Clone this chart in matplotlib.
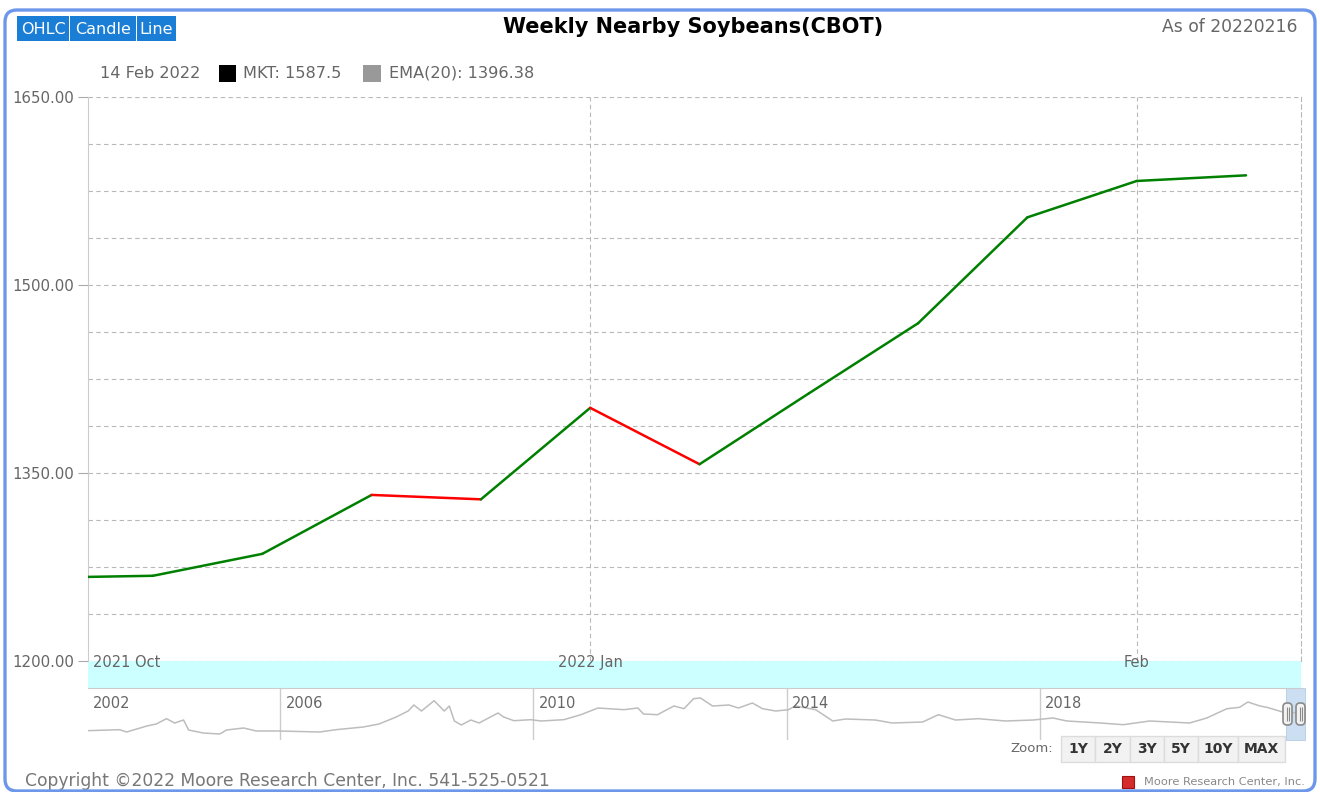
import numpy as np
import matplotlib
matplotlib.use('Agg')
import matplotlib.pyplot as plt
from matplotlib.patches import Rectangle, FancyBboxPatch
from matplotlib.transforms import IdentityTransform

W, H = 1320, 792

# weekly closes shown in the zoomed window (ordinal week index)
week_pos = [-1, 0, 1, 2, 3, 4, 5, 6, 7, 8, 9, 10]
week_close = [1266.5, 1268.0, 1285.5, 1332.5, 1329.0, 1402.0, 1357.0,
              1413.5, 1469.5, 1554.0, 1583.0, 1587.5]
x_tick_pos = [4, 9]
x_tick_labels = ['2022 Jan', 'Feb']
y_major = [1200, 1350, 1500, 1650]

# navigator series (long history)
nav_years = [2002.94, 2003.46, 2003.57, 2003.89, 2004.04, 2004.20, 2004.33, 2004.47,
             2004.55, 2004.78, 2005.04, 2005.15, 2005.42, 2005.62, 2005.98, 2006.62,
             2006.88, 2007.31, 2007.56, 2007.83, 2008.02, 2008.11, 2008.23, 2008.43,
             2008.59, 2008.67, 2008.75, 2008.86, 2009.01, 2009.14, 2009.44, 2009.53,
             2009.69, 2009.96, 2010.12, 2010.48, 2010.75, 2011.02, 2011.43, 2011.65,
             2011.74, 2011.96, 2012.22, 2012.38, 2012.53, 2012.64, 2012.83, 2013.09,
             2013.24, 2013.46, 2013.62, 2013.83, 2014.03, 2014.14, 2014.46, 2014.73,
             2014.93, 2015.40, 2015.67, 2016.15, 2016.40, 2016.67, 2017.03, 2017.46,
             2017.90, 2018.21, 2018.43, 2018.96, 2019.32, 2019.74, 2020.37, 2020.64,
             2020.96, 2021.16, 2021.29, 2021.48, 2021.59, 2021.84, 2022.12]
nav_close = [724, 756, 682, 874, 938, 1108, 970, 1066,
             746, 650, 618, 746, 810, 714, 714, 682,
             756, 842, 938, 1162, 1354, 1546, 1354, 1684,
             1354, 1514, 1034, 906, 1066, 970, 1290, 1162,
             1044, 1076, 1034, 1076, 1236, 1450, 1396, 1450,
             1258, 1236, 1514, 1428, 1748, 1770, 1514, 1546,
             1450, 1610, 1428, 1354, 1396, 1514, 1396, 1034,
             1098, 1066, 970, 1002, 1236, 1066, 1108, 1034,
             1066, 1130, 1034, 970, 916, 1034, 970, 1130,
             1428, 1472, 1642, 1514, 1472, 1322, 1290]
nav_ticks = [2006, 2010, 2014, 2018]
zoom_buttons = ['1Y', '2Y', '3Y', '5Y', '10Y', 'MAX']
chart_buttons = ['OHLC', 'Candle', 'Line']

GRAY = '#666666'
GRID = '#b8b8b8'


def rect(x0, y0, x1, y1):
    return [x0 / W, 1 - y1 / H, (x1 - x0) / W, (y1 - y0) / H]


def fx(x):
    return x / W


def fy(y):
    return 1 - y / H


def px_box(x0, y0, x1, y1, **kw):
    # box in screen pixels (top-left origin)
    return FancyBboxPatch((x0, H - y1), x1 - x0, y1 - y0,
                          transform=IdentityTransform(), **kw)


plt.rcParams['font.family'] = 'DejaVu Sans'
fig = plt.figure(figsize=(W / 100, H / 100), dpi=100)
fig.patch.set_facecolor('white')

# ---- main chart ----
ax = fig.add_axes(rect(88, 97, 1301, 661))
ax.set_zorder(3)
ax.set_xlim(-0.595, 10.503)
ax.set_ylim(1200, 1650)

for i in range(len(week_pos) - 1):
    c = '#008000' if week_close[i + 1] >= week_close[i] else '#ff0000'
    ax.plot(week_pos[i:i + 2], week_close[i:i + 2], color=c, lw=1.8,
            solid_capstyle='round', zorder=4)

ax.set_yticks(y_major)
ax.set_yticklabels([f'{v:.2f}' for v in y_major])
ax.set_yticks(np.arange(1200, 1651, 37.5), minor=True)
ax.tick_params(axis='y', which='major', length=7, width=0.8, color='#aaaaaa',
               labelcolor=GRAY, labelsize=10.8, pad=3)
ax.tick_params(axis='y', which='minor', length=0)
ax.set_xticks(x_tick_pos)
ax.set_xticklabels([])
ax.tick_params(axis='x', length=0)
ax.grid(axis='y', which='both', linestyle=(0, (4, 3)), color=GRID, lw=0.8)
ax.grid(axis='x', which='major', linestyle=(0, (4, 3)), color=GRID, lw=0.8)
for s in ['top', 'bottom']:
    ax.spines[s].set_visible(False)
ax.spines['left'].set_color('#cccccc')
ax.spines['right'].set_color(GRID)
ax.spines['right'].set_linestyle((0, (4, 3)))
ax.spines['right'].set_linewidth(0.8)

# x labels sit inside the cyan strip
ax.text(0.004, -0.0035, '2021 Oct', transform=ax.transAxes, ha='left', va='center',
        fontsize=10.5, color=GRAY, clip_on=False, zorder=6)
for p, lbl in zip(x_tick_pos, x_tick_labels):
    ax.text(p, -0.0035, lbl, transform=ax.get_xaxis_transform(), ha='center',
            va='center', fontsize=10.5, color=GRAY, clip_on=False, zorder=6)

# cyan strip under the plot
fig.add_artist(Rectangle((fx(88), fy(688)), (1301 - 88) / W, 27 / H,
                         transform=fig.transFigure, facecolor='#ccffff',
                         edgecolor='none', zorder=1))

# ---- navigator ----
nav = fig.add_axes(rect(88, 688, 1301, 740))
nav.set_zorder(2)
nav.patch.set_alpha(0)
nav.set_xlim(2002.96, 2022.13)
nav.set_ylim(426, 2090)
nav.plot(nav_years, nav_close, color='#bdbdbd', lw=1.1)
nav.set_xticks(nav_ticks)
nav.set_xticklabels([])
nav.set_yticks([])
nav.tick_params(axis='x', length=0)
nav.grid(axis='x', color='#cccccc', lw=1.0)
for s in ['left', 'right', 'bottom']:
    nav.spines[s].set_visible(False)
nav.spines['top'].set_color('#cccccc')
nav.text(0.004, 0.71, '2002', transform=nav.transAxes, ha='left', va='center',
         fontsize=10.5, color=GRAY)
for t in nav_ticks:
    nav.text(t + 0.08, 0.71, str(t), transform=nav.get_xaxis_transform(),
             ha='left', va='center', fontsize=10.5, color=GRAY)
nav.add_patch(Rectangle((0.988, 0), 0.015, 1, transform=nav.transAxes,
                        facecolor='#c7dcf1', edgecolor='#b0c8e0', lw=0.6,
                        alpha=0.9, clip_on=False))
for hx in [1283, 1296]:
    fig.add_artist(px_box(hx, 703, hx + 9, 725,
                          boxstyle='round,pad=0,rounding_size=4',
                          facecolor='#f2f2f2', edgecolor='#8a8a8a', lw=1.2, zorder=8))
    for lx in [hx + 3.5, hx + 5.5]:
        fig.add_artist(Rectangle((lx, H - 721), 0.1, 14, transform=IdentityTransform(),
                                 edgecolor='#8a8a8a', lw=0.8, zorder=9))

# zoom buttons
fig.text(fx(1053), fy(749), 'Zoom:', ha='right', va='center', fontsize=9.5, color=GRAY)
bx = [1061, 1095, 1130, 1164, 1198, 1238, 1285]
for i, lbl in enumerate(zoom_buttons):
    fig.add_artist(px_box(bx[i], 736, bx[i + 1], 762, boxstyle='square,pad=0',
                          facecolor='#f2f2f2', edgecolor='#dcdcdc', lw=1))
    fig.text(fx((bx[i] + bx[i + 1]) / 2), fy(749), lbl, ha='center', va='center',
             fontsize=10, fontweight='bold', color='#333333')

# ---- header ----
cbx = [17, 70, 137, 177]
for i, lbl in enumerate(chart_buttons):
    fig.add_artist(px_box(cbx[i], 16, cbx[i + 1] - 1, 41, boxstyle='square,pad=0',
                          facecolor='#1a7dd6', edgecolor='none'))
    fig.text(fx((cbx[i] + cbx[i + 1] - 1) / 2), fy(29), lbl, ha='center', va='center',
             fontsize=11.5, color='white')

fig.text(fx(693), fy(27), 'Weekly Nearby Soybeans(CBOT)', ha='center', va='center',
         fontsize=15, fontweight='bold', color='black')
fig.text(fx(1297), fy(27), 'As of 20220216', ha='right', va='center',
         fontsize=12.3, color=GRAY)

# legend row
fig.text(fx(100), fy(73), '14 Feb 2022', ha='left', va='center', fontsize=11.6, color=GRAY)
fig.add_artist(px_box(219, 65, 236, 82, boxstyle='square,pad=0',
                      facecolor='black', edgecolor='none'))
fig.text(fx(243), fy(73), 'MKT: 1587.5', ha='left', va='center', fontsize=11.6, color=GRAY)
fig.add_artist(px_box(363, 65, 381, 82, boxstyle='square,pad=0',
                      facecolor='#999999', edgecolor='none'))
fig.text(fx(389), fy(73), 'EMA(20): 1396.38', ha='left', va='center', fontsize=11.6, color=GRAY)

# ---- footer ----
fig.text(fx(25), fy(781), 'Copyright \u00a92022 Moore Research Center, Inc. 541-525-0521',
         ha='left', va='center', fontsize=12.3, color='#777777')
fig.add_artist(px_box(1122, 776, 1134, 788, boxstyle='square,pad=0',
                      facecolor='#d42b2b', edgecolor='#a01010', lw=0.8))
fig.text(fx(1305), fy(782), 'Moore Research Center, Inc.', ha='right', va='center',
         fontsize=8.2, color='#888888')

# outer rounded border
fig.add_artist(px_box(5, 10, 1315, 791, boxstyle='round,pad=0,rounding_size=12',
                      facecolor='none', edgecolor='#6d97ea', lw=2.4, zorder=10))

fig.savefig('out.png', dpi=100)
